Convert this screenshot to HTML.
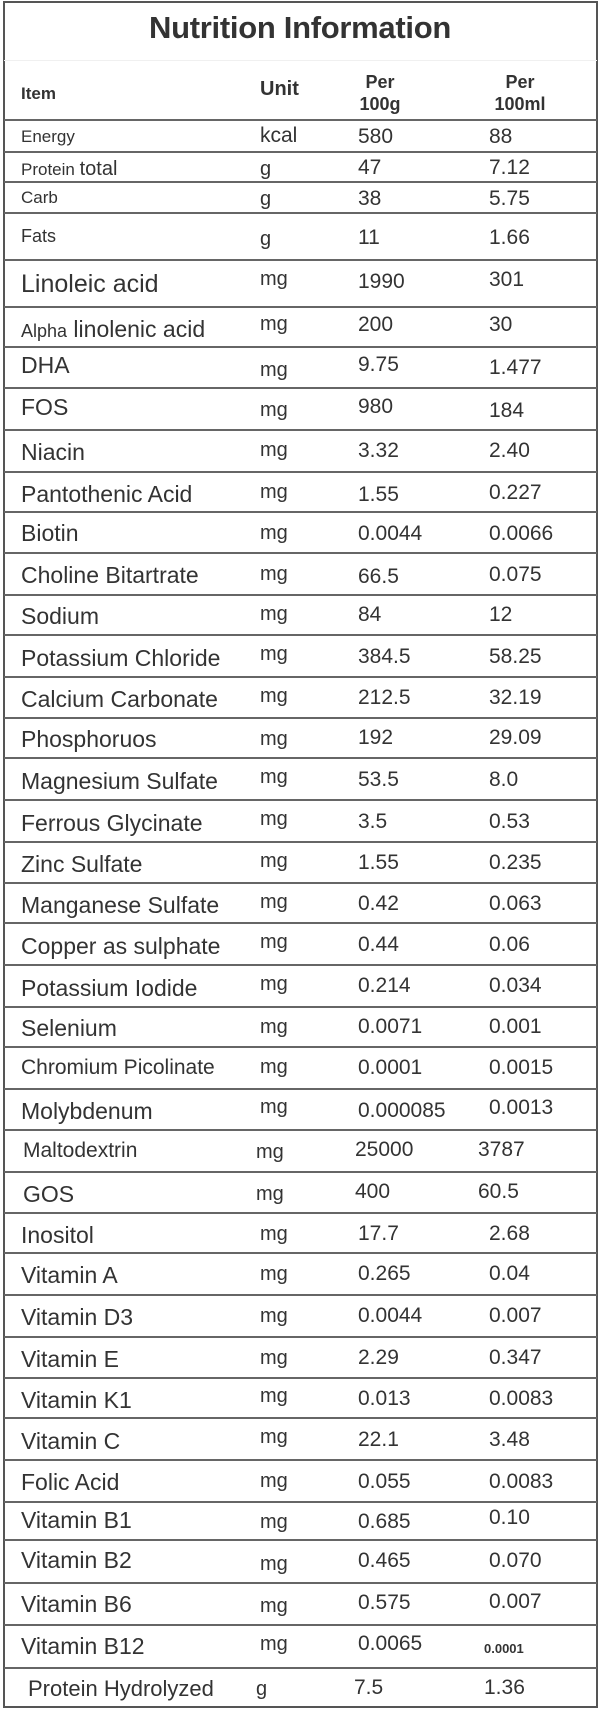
<!DOCTYPE html>
<html><head><meta charset="utf-8"><style>
*{margin:0;padding:0;box-sizing:border-box}
body{width:600px;height:1709px;background:#fff;position:relative;overflow:hidden;font-family:"Liberation Sans",Arial,sans-serif;color:#333}
.frame{position:absolute;left:3px;top:1px;width:595px;height:1707px;border:2px solid #555}
.t{position:absolute;left:0;width:600px;top:10px;text-align:center;font-weight:bold;font-size:31px;letter-spacing:-0.3px;color:#333}
.hl{position:absolute;left:4px;width:593px;height:2px;background:#666}
.r{position:absolute;left:0;width:600px}
.r span{position:absolute;white-space:nowrap;font-size:23px}
.r span.u{font-size:20px!important}
.r span.v,.r span.w{font-size:21px}
.a{left:21px}.u{left:260px}.v{left:358px}.w{left:489px}
.h{position:absolute;font-weight:bold;color:#333}
</style></head><body>
<div class="frame"></div>
<div class="t">Nutrition Information</div>
<div class="hl" style="top:60px;height:1px;background:#f0f0f0"></div>
<div class="h" style="left:21px;top:84px;font-size:17px">Item</div>
<div class="h" style="left:260px;top:78px;font-size:20px">Unit</div>
<div class="h" style="left:340px;top:71px;width:80px;text-align:center;font-size:18px;line-height:22px">Per<br>100g</div>
<div class="h" style="left:473px;top:71px;width:94px;text-align:center;font-size:18px;line-height:22px">Per<br>100ml</div>

<div class="hl" style="top:119px"></div>
<div class="hl" style="top:151px"></div>
<div class="hl" style="top:181px"></div>
<div class="hl" style="top:212px"></div>
<div class="hl" style="top:259px"></div>
<div class="hl" style="top:306px"></div>
<div class="hl" style="top:346px"></div>
<div class="hl" style="top:387px"></div>
<div class="hl" style="top:429px"></div>
<div class="hl" style="top:471px"></div>
<div class="hl" style="top:511px"></div>
<div class="hl" style="top:552px"></div>
<div class="hl" style="top:594px"></div>
<div class="hl" style="top:634px"></div>
<div class="hl" style="top:676px"></div>
<div class="hl" style="top:717px"></div>
<div class="hl" style="top:757px"></div>
<div class="hl" style="top:799px"></div>
<div class="hl" style="top:841px"></div>
<div class="hl" style="top:882px"></div>
<div class="hl" style="top:922px"></div>
<div class="hl" style="top:964px"></div>
<div class="hl" style="top:1006px"></div>
<div class="hl" style="top:1046px"></div>
<div class="hl" style="top:1088px"></div>
<div class="hl" style="top:1129px"></div>
<div class="hl" style="top:1171px"></div>
<div class="hl" style="top:1212px"></div>
<div class="hl" style="top:1252px"></div>
<div class="hl" style="top:1294px"></div>
<div class="hl" style="top:1336px"></div>
<div class="hl" style="top:1377px"></div>
<div class="hl" style="top:1417px"></div>
<div class="hl" style="top:1459px"></div>
<div class="hl" style="top:1501px"></div>
<div class="hl" style="top:1539px"></div>
<div class="hl" style="top:1582px"></div>
<div class="hl" style="top:1624px"></div>
<div class="hl" style="top:1667px"></div>

<div class="r" style="top:121px"><span class="a" style="font-size:17px;top:6px">Energy</span><span class="u" style="font-size:21px!important;top:3px">kcal</span><span class="v" style="top:4px">580</span><span class="w" style="top:4px">88</span></div>
<div class="r" style="top:153px"><span class="a" style="font-size:17px;top:5px">Protein <span style="position:static;font-size:20px">total</span></span><span class="u" style="top:5px">g</span><span class="v" style="top:3px">47</span><span class="w" style="top:3px">7.12</span></div>
<div class="r" style="top:183px"><span class="a" style="font-size:17px;top:5px">Carb</span><span class="u" style="top:5px">g</span><span class="v" style="top:4px">38</span><span class="w" style="top:4px">5.75</span></div>
<div class="r" style="top:214px"><span class="a" style="font-size:18px;top:12px">Fats</span><span class="u" style="top:14px">g</span><span class="v" style="top:12px">11</span><span class="w" style="top:12px">1.66</span></div>
<div class="r" style="top:261px"><span class="a" style="font-size:25px;top:9px">Linoleic acid</span><span class="u" style="top:7px">mg</span><span class="v" style="top:9px">1990</span><span class="w" style="top:7px">301</span></div>
<div class="r" style="top:308px"><span class="a" style="top:8px"><span style="position:static;font-size:18px">Alpha</span> linolenic acid</span><span class="u" style="top:5px">mg</span><span class="v" style="top:5px">200</span><span class="w" style="top:5px">30</span></div>
<div class="r" style="top:348px"><span class="a" style="top:4px">DHA</span><span class="u" style="top:11px">mg</span><span class="v" style="top:5px">9.75</span><span class="w" style="top:8px">1.477</span></div>
<div class="r" style="top:389px"><span class="a" style="top:5px">FOS</span><span class="u" style="top:10px">mg</span><span class="v" style="top:6px">980</span><span class="w" style="top:10px">184</span></div>
<div class="r" style="top:431px"><span class="a" style="top:8px">Niacin</span><span class="u" style="top:8px">mg</span><span class="v" style="top:8px">3.32</span><span class="w" style="top:8px">2.40</span></div>
<div class="r" style="top:473px"><span class="a" style="top:8px">Pantothenic Acid</span><span class="u" style="top:8px">mg</span><span class="v" style="top:10px">1.55</span><span class="w" style="top:8px">0.227</span></div>
<div class="r" style="top:513px"><span class="a" style="top:7px">Biotin</span><span class="u" style="top:9px">mg</span><span class="v" style="top:9px">0.0044</span><span class="w" style="top:9px">0.0066</span></div>
<div class="r" style="top:554px"><span class="a" style="top:8px">Choline Bitartrate</span><span class="u" style="top:9px">mg</span><span class="v" style="top:11px">66.5</span><span class="w" style="top:9px">0.075</span></div>
<div class="r" style="top:596px"><span class="a" style="top:7px">Sodium</span><span class="u" style="top:7px">mg</span><span class="v" style="top:7px">84</span><span class="w" style="top:7px">12</span></div>
<div class="r" style="top:636px"><span class="a" style="top:9px">Potassium Chloride</span><span class="u" style="top:7px">mg</span><span class="v" style="top:9px">384.5</span><span class="w" style="top:9px">58.25</span></div>
<div class="r" style="top:678px"><span class="a" style="top:8px">Calcium Carbonate</span><span class="u" style="top:7px">mg</span><span class="v" style="top:8px">212.5</span><span class="w" style="top:8px">32.19</span></div>
<div class="r" style="top:719px"><span class="a" style="top:7px">Phosphoruos</span><span class="u" style="top:9px">mg</span><span class="v" style="top:7px">192</span><span class="w" style="top:7px">29.09</span></div>
<div class="r" style="top:759px"><span class="a" style="top:9px">Magnesium Sulfate</span><span class="u" style="top:7px">mg</span><span class="v" style="top:9px">53.5</span><span class="w" style="top:9px">8.0</span></div>
<div class="r" style="top:801px"><span class="a" style="top:9px">Ferrous Glycinate</span><span class="u" style="top:7px">mg</span><span class="v" style="top:9px">3.5</span><span class="w" style="top:9px">0.53</span></div>
<div class="r" style="top:843px"><span class="a" style="top:8px">Zinc Sulfate</span><span class="u" style="top:7px">mg</span><span class="v" style="top:8px">1.55</span><span class="w" style="top:8px">0.235</span></div>
<div class="r" style="top:884px"><span class="a" style="top:8px">Manganese Sulfate</span><span class="u" style="top:7px">mg</span><span class="v" style="top:8px">0.42</span><span class="w" style="top:8px">0.063</span></div>
<div class="r" style="top:924px"><span class="a" style="top:9px">Copper as sulphate</span><span class="u" style="top:7px">mg</span><span class="v" style="top:9px">0.44</span><span class="w" style="top:9px">0.06</span></div>
<div class="r" style="top:966px"><span class="a" style="top:9px">Potassium Iodide</span><span class="u" style="top:7px">mg</span><span class="v" style="top:8px">0.214</span><span class="w" style="top:8px">0.034</span></div>
<div class="r" style="top:1008px"><span class="a" style="top:7px">Selenium</span><span class="u" style="top:8px">mg</span><span class="v" style="top:7px">0.0071</span><span class="w" style="top:7px">0.001</span></div>
<div class="r" style="top:1048px"><span class="a" style="top:8px;font-size:21px">Chromium Picolinate</span><span class="u" style="top:8px">mg</span><span class="v" style="top:8px">0.0001</span><span class="w" style="top:8px">0.0015</span></div>
<div class="r" style="top:1090px"><span class="a" style="top:8px">Molybdenum</span><span class="u" style="top:6px">mg</span><span class="v" style="top:9px">0.000085</span><span class="w" style="top:6px">0.0013</span></div>
<div class="r" style="top:1131px"><span class="a" style="top:8px;left:23px;font-size:21px">Maltodextrin</span><span class="u" style="left:256px;top:10px">mg</span><span class="v" style="left:355px;top:7px">25000</span><span class="w" style="left:478px;top:7px">3787</span></div>
<div class="r" style="top:1173px"><span class="a" style="top:8px;left:23px">GOS</span><span class="u" style="left:256px;top:10px">mg</span><span class="v" style="left:355px;top:7px">400</span><span class="w" style="left:478px;top:7px">60.5</span></div>
<div class="r" style="top:1214px"><span class="a" style="top:8px">Inositol</span><span class="u" style="top:9px">mg</span><span class="v" style="top:8px">17.7</span><span class="w" style="top:8px">2.68</span></div>
<div class="r" style="top:1254px"><span class="a" style="top:8px">Vitamin A</span><span class="u" style="top:9px">mg</span><span class="v" style="top:8px">0.265</span><span class="w" style="top:8px">0.04</span></div>
<div class="r" style="top:1296px"><span class="a" style="top:8px">Vitamin D3</span><span class="u" style="top:9px">mg</span><span class="v" style="top:8px">0.0044</span><span class="w" style="top:8px">0.007</span></div>
<div class="r" style="top:1338px"><span class="a" style="top:8px">Vitamin E</span><span class="u" style="top:9px">mg</span><span class="v" style="top:8px">2.29</span><span class="w" style="top:8px">0.347</span></div>
<div class="r" style="top:1379px"><span class="a" style="top:8px">Vitamin K1</span><span class="u" style="top:6px">mg</span><span class="v" style="top:8px">0.013</span><span class="w" style="top:8px">0.0083</span></div>
<div class="r" style="top:1419px"><span class="a" style="top:9px">Vitamin C</span><span class="u" style="top:7px">mg</span><span class="v" style="top:9px">22.1</span><span class="w" style="top:9px">3.48</span></div>
<div class="r" style="top:1461px"><span class="a" style="top:8px">Folic Acid</span><span class="u" style="top:9px">mg</span><span class="v" style="top:9px">0.055</span><span class="w" style="top:9px">0.0083</span></div>
<div class="r" style="top:1503px"><span class="a" style="top:4px">Vitamin B1</span><span class="u" style="top:8px">mg</span><span class="v" style="top:7px">0.685</span><span class="w" style="top:3px">0.10</span></div>
<div class="r" style="top:1541px"><span class="a" style="top:6px">Vitamin B2</span><span class="u" style="top:12px">mg</span><span class="v" style="top:8px">0.465</span><span class="w" style="top:8px">0.070</span></div>
<div class="r" style="top:1584px"><span class="a" style="top:7px">Vitamin B6</span><span class="u" style="top:11px">mg</span><span class="v" style="top:7px">0.575</span><span class="w" style="top:6px">0.007</span></div>
<div class="r" style="top:1626px"><span class="a" style="top:7px">Vitamin B12</span><span class="u" style="top:7px">mg</span><span class="v" style="top:6px">0.0065</span><span class="w" style="font-size:13px;font-weight:bold;left:484px;top:15px">0.0001</span></div>
<div class="r" style="top:1669px"><span class="a" style="top:7px;left:28px;font-size:22px">Protein Hydrolyzed</span><span class="u" style="left:256px;top:9px">g</span><span class="v" style="left:354px;top:7px">7.5</span><span class="w" style="left:484px;top:7px">1.36</span></div>
</body></html>
